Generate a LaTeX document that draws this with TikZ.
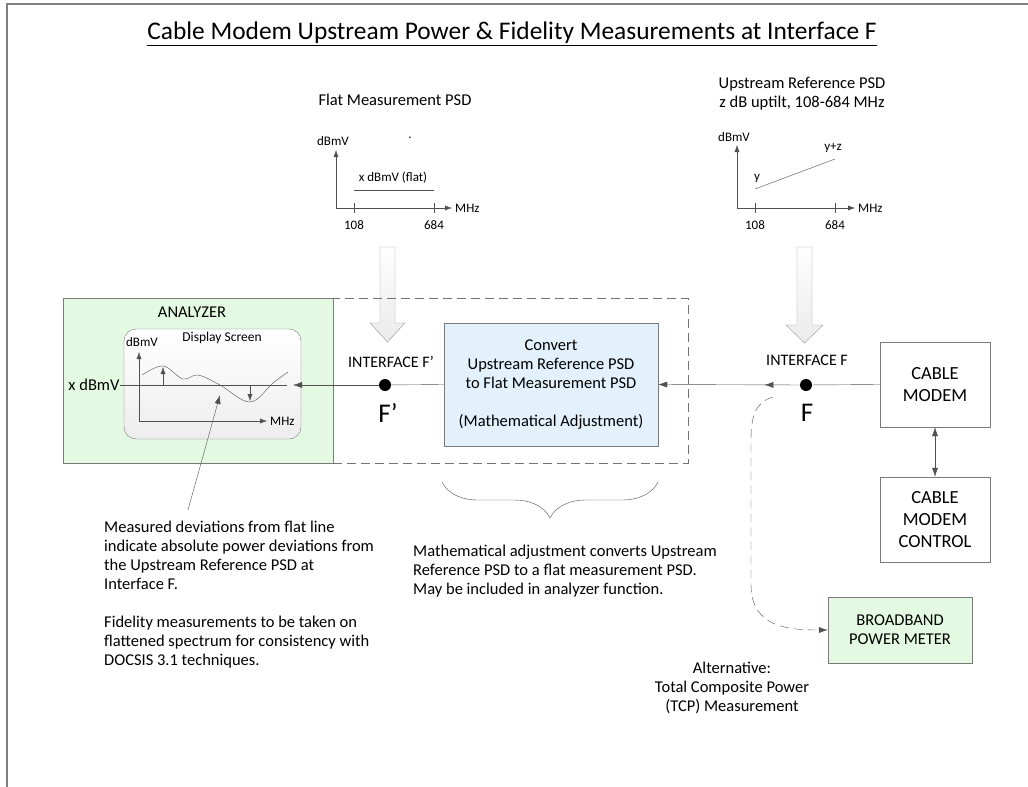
\documentclass[tikz,border=0pt]{standalone}
\usepackage{fontspec}
\setmainfont{Carlito}
\usepackage{tikz}
\usetikzlibrary{
        arrows,
        shapes,
        positioning,
        arrows.meta,
        decorations.pathreplacing,
        decorations.markings
    }
\definecolor{anagreen}{HTML}{E3F9E1}
\definecolor{convblue}{HTML}{E2F1FB}
\definecolor{linegray}{HTML}{505050}
\definecolor{boxgray}{HTML}{7A7A7A}

\begin{document}
\begin{tikzpicture}
[x=1pt, y=-1pt,
baseshape/.style={draw=boxgray, text centered, align=center, font=\fontsize{16.5}{19}\selectfont, inner sep=0pt},
block/.style={baseshape, rectangle, fill=white, font=\fontsize{18.5}{22}\selectfont},
greenbox/.style={baseshape, rectangle, fill=anagreen},
convbox/.style={baseshape, rectangle, fill=convblue},
screen/.style={baseshape, rectangle, rounded corners=12pt, top color=white, bottom color=black!7},
dot/.style={circle, fill=black, minimum size=12pt, inner sep=0pt},
txt/.style={font=\fontsize{16.5}{19}\selectfont, inner sep=0pt},
small/.style={font=\fontsize{13}{15}\selectfont, inner sep=0pt},
iface/.style={font=\fontsize{16}{19}\selectfont, inner sep=0pt},
arrow/.style={linegray, -{Latex[length=9pt, width=6pt]}},
smallarrow/.style={linegray, -{Latex[length=7pt, width=5pt]}},
line/.style={linegray},
longdash/.style={dash pattern=on 9pt off 5pt},
hollow/.style={draw=black!40, top color=white, bottom color=black!8},]
\useasboundingbox (0,0) rectangle (1028,787);

% page frame
\draw [black!50, line width=2pt] (1028,4) -- (7,4) -- (7,787);

\node (title) [inner sep=0pt, font=\fontsize{25.4}{30}\selectfont] at (512,34) {\underline{Cable Modem Upstream Power \& Fidelity Measurements at Interface F}};

% flat measurement PSD
\node (flathead) [txt] at (395,100) {Flat Measurement PSD};
\coordinate (fo) at (336,208);
\coordinate (fy) at (336,150);
\coordinate (fx) at (452,208);
\draw [smallarrow] (fo) -- (fy);
\draw [smallarrow] (fo) -- (fx);
\node (fdbmv) [small] at (333,141) {dBmV};
\node (fdot) [small] at (410,138) {.};
\node (fmhz) [small, anchor=west] at (455,208) {MHz};
\draw [line] (354,203) -- (354,213);
\draw [line] (434,203) -- (434,213);
\node (f108) [small] at (354,225) {108};
\node (f684) [small] at (434,225) {684};
\draw [line] (354,190) -- (434,190);
\node (flatlbl) [small] at (393,178) {x dBmV (flat)};

% upstream reference PSD
\node (refhead) [txt, align=center] at (802,94) {Upstream Reference PSD\\z dB uptilt, 108-684 MHz};
\coordinate (ro) at (737,208);
\coordinate (ry) at (737,145);
\coordinate (rx) at (855,208);
\draw [smallarrow] (ro) -- (ry);
\draw [smallarrow] (ro) -- (rx);
\node (rdbmv) [small] at (734,137) {dBmV};
\node (rmhz) [small, anchor=west] at (858,208) {MHz};
\draw [line] (755,203) -- (755,213);
\draw [line] (835,203) -- (835,213);
\node (r108) [small] at (755,225) {108};
\node (r684) [small] at (835,225) {684};
\draw [line] (755,189) -- (835,159);
\node (ry0) [small] at (757,178) {y};
\node (ryz) [small] at (833,148) {y+z};

% hollow arrows
\draw [hollow] (380,247) -- (395,247) -- (395,323) -- (405,323) -- (387.5,342) -- (370,323) -- (380,323) -- cycle;
\draw [hollow] (797,247) -- (812,247) -- (812,325) -- (823,325) -- (804.5,343) -- (786,325) -- (797,325) -- cycle;

% boxes
\node (adjust) [draw=black!55, longdash, minimum width=355pt, minimum height=165pt] at (510.5,380.5) {};
\node (analyzer) [greenbox, minimum width=270pt, minimum height=165pt] at (198,380.5) {};
\node (analbl) [txt] at (192,312) {ANALYZER};
\node (screen) [screen, minimum width=177pt, minimum height=110pt] at (212.5,384) {};
\node (scrlbl) [small, font=\fontsize{13.5}{15}\selectfont] at (222,338) {Display Screen};
\node (convert) [convbox, minimum width=214pt, minimum height=123pt] at (551,384.5) {Convert\\Upstream Reference PSD\\to Flat Measurement PSD\\[19pt](Mathematical Adjustment)};
\node (cm) [block, minimum width=110pt, minimum height=85pt] at (935,384.5) {CABLE\\MODEM};
\node (cmc) [block, minimum width=110pt, minimum height=85pt] at (935,519.5) {CABLE\\MODEM\\CONTROL};
\node (bpm) [greenbox, minimum width=144pt, minimum height=66pt] at (900,630) {BROADBAND\\POWER METER};

% display screen contents
\coordinate (so) at (139,421);
\coordinate (sy) at (139,352);
\coordinate (sx) at (267,421);
\draw [smallarrow] (so) -- (sy);
\draw [smallarrow] (so) -- (sx);
\node (sdbmv) [small] at (142,342) {dBmV};
\node (smhz) [small, anchor=west] at (270,421) {MHz};
\draw [line] plot [smooth, tension=0.6] coordinates {(142,375) (163,366) (183,379) (198,375) (220,385) (250,402) (273,383) (288,372)};
\node (xdbmv) [txt] at (94,385) {x dBmV};
\coordinate (flatend) at (287,385);
\draw [line] (xdbmv.east) -- (flatend);
\draw [smallarrow] (163,385) -- (163,367);
\draw [smallarrow] (250,385) -- (250,401);

% interfaces
\node (fprime) [dot] at (385,385) {};
\node (fpin) [iface] at (391,362) {INTERFACE F'};
\node (fplbl) [inner sep=0pt, font=\fontsize{27}{30}\selectfont] at (388,413) {F'};
\node (fiface) [dot] at (806,385) {};
\node (fin) [iface] at (807,360) {INTERFACE F};
\node (flbl) [inner sep=0pt, font=\fontsize{27}{30}\selectfont] at (807,413) {F};

% signal path
\coordinate (scrin) at (293,385);
\draw [line] (cm.west) -- (fiface);
\draw [arrow, postaction={decorate}, decoration={markings, mark=at position 0.25 with {\arrow{Latex[length=9pt, width=6pt]}}}] (fiface) -- (convert.east);
\draw [line] (convert.west) -- (fprime);
\draw [arrow] (fprime) -- (scrin);
\draw [linegray, {Latex[length=9pt, width=6pt]}-{Latex[length=9pt, width=6pt]}] (cm) -- (cmc);

% alternative measurement
\coordinate (altstart) at (773,397);
\draw [arrow, longdash] (altstart) .. controls (756,402) and (751,415) .. (751,440) -- (751,585) .. controls (751,628) and (790,630) .. (bpm.west);
\node (alttxt) [txt, align=center, anchor=north] at (732,662) {Alternative:\\Total Composite Power\\(TCP) Measurement};

% brace and notes
\draw [linegray, decorate, decoration={brace, amplitude=36pt}] (658,482) -- (442,482);
\node (mathtxt) [txt, align=left, anchor=north west] at (413,545) {Mathematical adjustment converts Upstream\\Reference PSD to a flat measurement PSD.\\May be included in analyzer function.};

\coordinate (ptrfoot) at (188,510);
\coordinate (ptrtip) at (220,395);
\draw [arrow] (ptrfoot) -- (ptrtip);
\node (devtxt) [txt, align=left, anchor=north west] at (104,521) {Measured deviations from flat line\\indicate absolute power deviations from\\the Upstream Reference PSD at\\Interface F.\\[19pt]Fidelity measurements to be taken on\\flattened spectrum for consistency with\\DOCSIS 3.1 techniques.};

\end{tikzpicture}
\end{document}
